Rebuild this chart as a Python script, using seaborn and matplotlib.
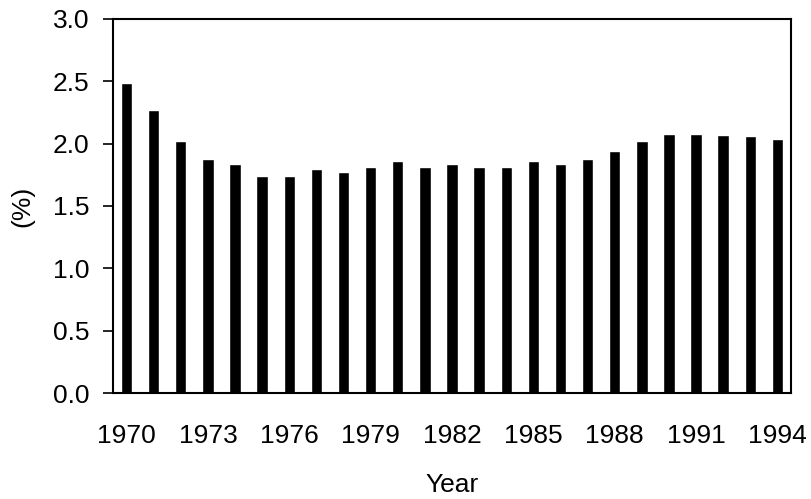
import matplotlib
import matplotlib.pyplot as plt
import pandas as pd
import seaborn as sns

matplotlib.use('Agg')

# Values
years = [str(y) for y in range(1970, 1995)]
percent = [2.49, 2.27, 2.02, 1.88, 1.84, 1.74, 1.74, 1.80, 1.77, 1.81,
           1.86, 1.81, 1.84, 1.81, 1.81, 1.86, 1.84, 1.88, 1.94, 2.02,
           2.08, 2.08, 2.07, 2.06, 2.04]
tick_years = years[::3]


def make_chart(output_file):
    df = pd.DataFrame({'Year': years, 'pct': percent})

    sns.set_style('white')
    plt.rcParams['font.family'] = ['Liberation Sans', 'DejaVu Sans']
    plt.rcParams['text.color'] = 'black'
    plt.rcParams['axes.labelcolor'] = 'black'
    plt.rcParams['xtick.color'] = 'black'
    plt.rcParams['ytick.color'] = 'black'

    fig = plt.figure(figsize=(8.11, 4.99), dpi=100)
    ax = fig.add_axes([0.1393, 0.2124, 0.836, 0.7496])

    sns.barplot(data=df, x='Year', y='pct', color='black', width=0.42,
                saturation=1, ax=ax)

    ax.set_xlim(-0.5, len(years) - 0.5)
    ax.set_ylim(0, 3.0)
    ax.set_yticks([0, 0.5, 1.0, 1.5, 2.0, 2.5, 3.0])
    ax.set_yticklabels(['0.0', '0.5', '1.0', '1.5', '2.0', '2.5', '3.0'])
    ax.set_xticks(range(0, len(years), 3))
    ax.set_xticklabels(tick_years)

    ax.tick_params(axis='x', length=0, pad=22, labelsize=19)
    ax.tick_params(axis='y', direction='out', length=7, width=1.2, pad=10,
                   labelsize=19, left=True)

    for side in ['top', 'bottom', 'left', 'right']:
        ax.spines[side].set_visible(True)
        ax.spines[side].set_color('black')
        ax.spines[side].set_linewidth(1.5)

    ax.set_xlabel('Year', fontsize=19, labelpad=18)
    ax.set_ylabel('(%)', fontsize=19, labelpad=13)

    fig.savefig(output_file, dpi=100)
    plt.close(fig)


if __name__ == '__main__':
    make_chart('out.png')
